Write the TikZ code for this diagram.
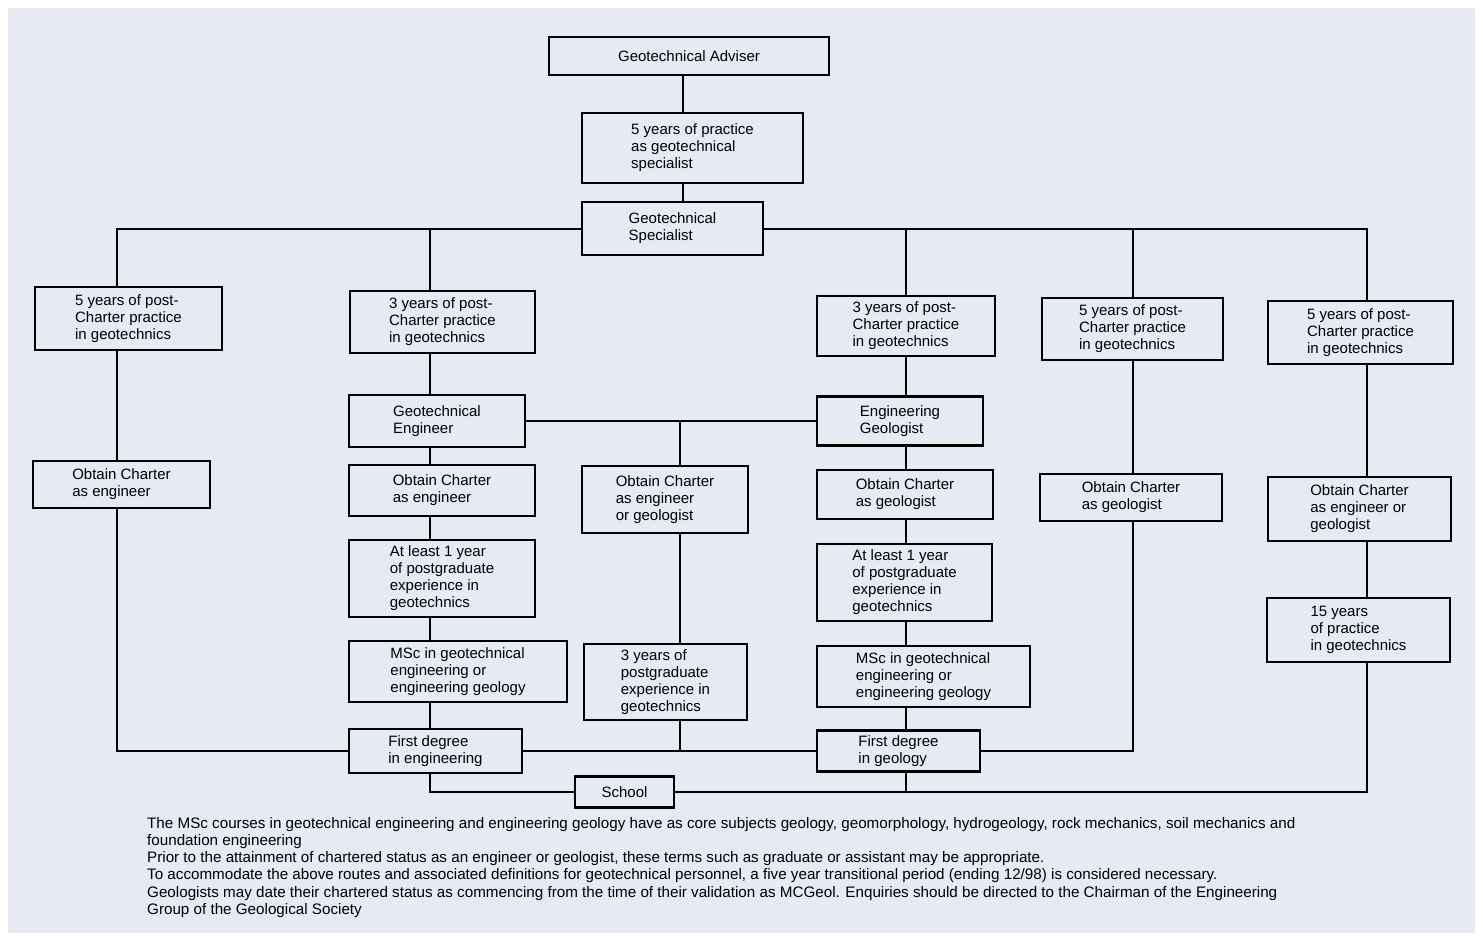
\documentclass[tikz,border=0pt]{standalone}
\usepackage{fontspec}
\setmainfont{Liberation Sans}
\definecolor{paper}{RGB}{231,234,242}
\begin{document}
\begin{tikzpicture}[x=1pt,y=-1pt,
  box/.style={draw=black, line width=2.3pt, inner sep=2pt, align=left,
    font=\fontsize{15}{17}\selectfont, text=black},
  conn/.style={draw=black, line width=2pt},
  notes/.style={align=left, inner sep=0pt, anchor=north west,
    font=\fontsize{15.2}{17.2}\selectfont, text=black}]
\useasboundingbox (0,0) rectangle (1483,939);
\fill[white] (0,0) rectangle (1483,939);
\fill[paper] (8,8) rectangle (1475,933);

% column coordinates
\coordinate (cT) at (683,0);
\coordinate (c1) at (117,0);
\coordinate (c2) at (430,0);
\coordinate (cM) at (680,0);
\coordinate (c3) at (906,0);
\coordinate (c4) at (1133,0);
\coordinate (c5) at (1367,0);

% nodes
\node[box, minimum width=280pt, minimum height=38pt] (adv) at (689,56) {Geotechnical Adviser};
\node[box, minimum width=221pt, minimum height=70pt] (prac) at (692.5,148) {5 years of practice\\as geotechnical\\specialist};
\node[box, minimum width=181pt, minimum height=53pt] (spec) at (672.5,228.5) {Geotechnical\\Specialist};

\node[box, minimum width=187pt, minimum height=63pt] (A1) at (128.5,318.5) {5 years of post-\\Charter practice\\in geotechnics};
\node[box, minimum width=185pt, minimum height=62pt] (A2) at (442.5,322) {3 years of post-\\Charter practice\\in geotechnics};
\node[box, minimum width=178pt, minimum height=60pt] (A3) at (906,326) {3 years of post-\\Charter practice\\in geotechnics};
\node[box, minimum width=181pt, minimum height=62pt] (A4) at (1132.5,329) {5 years of post-\\Charter practice\\in geotechnics};
\node[box, minimum width=185pt, minimum height=63pt] (A5) at (1360.5,332.5) {5 years of post-\\Charter practice\\in geotechnics};

\node[box, minimum width=176pt, minimum height=52pt] (GE) at (437,421) {Geotechnical\\Engineer};
\node[box, minimum width=166pt, minimum height=49pt] (EG) at (900,421) {Engineering\\Geologist};

\node[box, minimum width=177pt, minimum height=47pt] (OC1) at (121.5,484.5) {Obtain Charter\\as engineer};
\node[box, minimum width=186pt, minimum height=51pt] (OC2) at (442,490.5) {Obtain Charter\\as engineer};
\node[box, minimum width=166pt, minimum height=67pt] (OCM) at (665,499.5) {Obtain Charter\\as engineer\\or geologist};
\node[box, minimum width=176pt, minimum height=49pt] (OC3) at (905,494.5) {Obtain Charter\\as geologist};
\node[box, minimum width=182pt, minimum height=47pt] (OC4) at (1131,497.5) {Obtain Charter\\as geologist};
\node[box, minimum width=183pt, minimum height=64pt] (OC5) at (1359.5,509) {Obtain Charter\\as engineer or\\geologist};

\node[box, minimum width=186pt, minimum height=77pt] (AL2) at (442,578.5) {At least 1 year\\of postgraduate\\experience in\\geotechnics};
\node[box, minimum width=175pt, minimum height=77pt] (AL3) at (904.5,582.5) {At least 1 year\\of postgraduate\\experience in\\geotechnics};
\node[box, minimum width=183pt, minimum height=64pt] (Y15) at (1358.5,630) {15 years\\of practice\\in geotechnics};

\node[box, minimum width=218pt, minimum height=61pt] (MS2) at (458,671.5) {MSc in geotechnical\\engineering or\\engineering geology};
\node[box, minimum width=213pt, minimum height=61pt] (MS3) at (923.5,676.5) {MSc in geotechnical\\engineering or\\engineering geology};
\node[box, minimum width=163pt, minimum height=76pt] (PG) at (665.5,682) {3 years of\\postgraduate\\experience in\\geotechnics};

\node[box, minimum width=173pt, minimum height=44pt] (FD1) at (435.5,751) {First degree\\in engineering};
\node[box, minimum width=163pt, minimum height=41pt] (FD2) at (898.5,751) {First degree\\in geology};
\node[box, minimum width=99pt, minimum height=31pt] (SCH) at (624.5,792) {School};

% top chain
\draw[conn] (adv.south -| cT) -- (prac.north -| cT);
\draw[conn] (prac.south -| cT) -- (spec.north -| cT);
\draw[conn] (spec.west) -- (c1 |- spec.west) -- (A1.north -| c1);
\draw[conn] (c2 |- spec.west) -- (A2.north -| c2);
\draw[conn] (spec.east) -- (c5 |- spec.east) -- (A5.north -| c5);
\draw[conn] (c3 |- spec.east) -- (A3.north -| c3);
\draw[conn] (c4 |- spec.east) -- (A4.north -| c4);

% column 1
\draw[conn] (A1.south -| c1) -- (OC1.north -| c1);
\draw[conn] (OC1.south -| c1) |- (FD1.west);

% column 2
\draw[conn] (A2.south -| c2) -- (GE.north -| c2);
\draw[conn] (GE.south -| c2) -- (OC2.north -| c2);
\draw[conn] (OC2.south -| c2) -- (AL2.north -| c2);
\draw[conn] (AL2.south -| c2) -- (MS2.north -| c2);
\draw[conn] (MS2.south -| c2) -- (FD1.north -| c2);
\draw[conn] (FD1.south -| c2) |- (SCH.west);

% middle column
\draw[conn] (GE.east) -- (EG.west);
\draw[conn] (cM |- GE.east) -- (OCM.north -| cM);
\draw[conn] (OCM.south -| cM) -- (PG.north -| cM);
\draw[conn] (PG.south -| cM) -- (cM |- FD1.east);
\draw[conn] (FD1.east) -- (FD2.west);

% column 3
\draw[conn] (A3.south -| c3) -- (EG.north -| c3);
\draw[conn] (EG.south -| c3) -- (OC3.north -| c3);
\draw[conn] (OC3.south -| c3) -- (AL3.north -| c3);
\draw[conn] (AL3.south -| c3) -- (MS3.north -| c3);
\draw[conn] (MS3.south -| c3) -- (FD2.north -| c3);
\draw[conn] (FD2.south -| c3) -- (c3 |- SCH.east);

% column 4
\draw[conn] (A4.south -| c4) -- (OC4.north -| c4);
\draw[conn] (FD2.east) -| (OC4.south -| c4);

% column 5
\draw[conn] (A5.south -| c5) -- (OC5.north -| c5);
\draw[conn] (OC5.south -| c5) -- (Y15.north -| c5);
\draw[conn] (SCH.east) -| (Y15.south -| c5);

% notes
\node[notes] (notes) at (147,817) {The MSc courses in geotechnical engineering and engineering geology have as core subjects geology, geomorphology, hydrogeology, rock mechanics, soil mechanics and\\
foundation engineering\\
Prior to the attainment of chartered status as an engineer or geologist, these terms such as graduate or assistant may be appropriate.\\
To accommodate the above routes and associated definitions for geotechnical personnel, a five year transitional period (ending 12/98) is considered necessary.\\
Geologists may date their chartered status as commencing from the time of their validation as MCGeol. Enquiries should be directed to the Chairman of the Engineering\\
Group of the Geological Society};
\end{tikzpicture}
\end{document}
